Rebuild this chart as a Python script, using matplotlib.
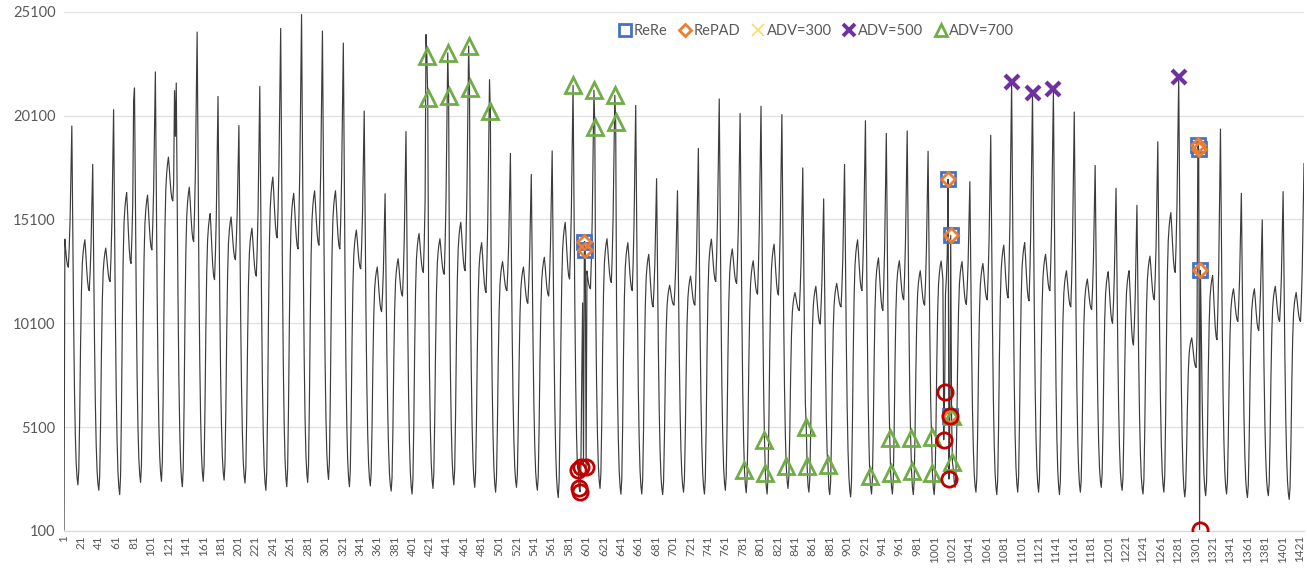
import numpy as np
import matplotlib
matplotlib.use("Agg")
import matplotlib.pyplot as plt
from matplotlib.lines import Line2D

plt.rcParams['font.family'] = ['Lato', 'DejaVu Sans']

# ---------------- data ----------------
N_POINTS = 1426          # hourly points
FIRST_TROUGH = 17        # index of the first night-time trough
HOURS_PER_DAY = 24

# one entry per day, day -1 (partial first day) .. day 58
day_trough = [2300, 2320, 2060, 1850, 2440, 2490, 2230, 2490, 2550, 2410,
              2060, 2230, 2440, 2580, 2230, 2270, 2020, 1880, 2150, 2320,
              2200, 1970, 2200, 2060, 1710, 2000, 2150, 1870, 1880, 1850,
              1970, 1880, 2060, 1940, 1880, 2150, 1970, 1850, 1740, 1880,
              1880, 1850, 1850, 2200, 1970, 1850, 1970, 1970, 1850, 1970,
              2200, 2060, 1880, 1970, 1740, 1800, 1880, 1710, 1800, 1620]
day_bump = [14600, 14120, 13720, 16390, 16270, 18100, 16650, 15380, 15220, 14680,
            17140, 16360, 16480, 16480, 14590, 12810, 13210, 14420, 14170, 14960,
            13980, 13070, 12810, 13280, 14960, 12900, 14170, 13980, 13420, 11930,
            12370, 14150, 13680, 13110, 13910, 11580, 11880, 12020, 14120, 13250,
            13110, 12630, 13100, 13070, 12980, 13860, 13980, 13420, 12630, 12230,
            12580, 12630, 13330, 15430, 9400, 12400, 11760, 11760, 11880, 11580]
day_dip = [12800, 11670, 12110, 12980, 13630, 15990, 14030, 12200, 13160, 12370,
           14210, 13680, 13860, 13680, 12720, 10660, 11410, 12550, 12460, 12630,
           11580, 11670, 11060, 11410, 12230, 11760, 12060, 11670, 10890, 10970,
           10970, 12110, 12020, 11500, 11460, 10710, 10060, 10890, 11670, 10710,
           11230, 10970, 11500, 11010, 11230, 11320, 11180, 11670, 10890, 10760,
           10100, 9050, 11230, 12550, 7970, 9310, 10190, 9750, 10190, 10190]
day_peak = [19600, 17750, 20380, 21430, 22200, 21670, 24120, 21020, 19620, 21500,
            24290, 24960, 24170, 23590, 20320, 16340, 19330, 22950, 23120, 23440,
            21830, 18280, 17270, 18400, 21550, 21320, 21080, 20590, 17060, 16480,
            18520, 20900, 20200, 20550, 20150, 17580, 16090, 17750, 19850, 19240,
            19360, 18380, 17030, 16920, 19150, 21720, 21200, 21370, 20270, 17700,
            16600, 15780, 18840, 21980, 18700, 19450, 16360, 15080, 16440, 17790]

# hourly shape of a day (fractions between the day's key levels)
rise_shape = [0.0, 0.06, 0.27, 0.56, 0.78, 0.90, 0.95, 0.98, 1.0]   # trough -> bump
bump_dip_shape = [0.25, 0.55, 0.80, 0.95, 1.0]                     # bump -> dip
dip_peak_shape = [0.14, 0.34, 0.66, 1.0]                           # dip -> peak
fall_shape = [0.74, 0.47, 0.27, 0.14, 0.06, 0.02]                  # peak -> next trough

# individual points (spikes, flagged points)
point_idx = [1, 81, 128, 129, 417, 419, 443, 467, 491,
             592, 593, 594, 595, 596, 597, 598, 599, 600, 601, 611, 635,
             783, 806, 807, 831, 854, 855, 879, 927, 950, 951, 974, 975, 998, 999,
             1012, 1013, 1017, 1018, 1019, 1020, 1021, 1022,
             1304, 1305, 1306, 1307]
point_val = [150, 20800, 21300, 19100, 24000, 20950, 21020, 21430, 20300,
             3030, 2180, 1990, 3190, 7500, 11080, 3300, 14030, 13630, 3190, 19540, 19800,
             3020, 4500, 2880, 3230, 5120, 3230, 3280, 2760, 4560, 2880, 4560, 3000, 4640, 2900,
             4490, 6790, 17030, 2600, 5620, 14330, 5660, 3410,
             18700, 18490, 170, 12650]

# detections (point indices)
rere_idx = [599, 600, 1017, 1019, 1020, 1304, 1305, 1307]
repad_idx = [599, 600, 1017, 1019, 1020, 1304, 1305, 1307]
adv300_idx = []
adv500_idx = [1090, 1114, 1138, 1282]
adv700_idx = [418, 419, 442, 443, 466, 467, 491, 586, 610, 611, 634, 635,
              783, 806, 807, 831, 854, 855, 879, 927, 950, 951, 974, 975,
              998, 999, 1021, 1022]
circle_idx = [592, 593, 594, 595, 601, 1012, 1013, 1018, 1019, 1306]

y_ticks = [100, 5100, 10100, 15100, 20100, 25100]
x_ticks = list(range(1, 1422, 20))

# ---------------- build the series ----------------
x = np.arange(1, N_POINTS + 1)
series = np.zeros(N_POINTS)
for n in x:
    rel = n - FIRST_TROUGH
    k = rel // HOURS_PER_DAY
    off = rel % HOURS_PER_DAY
    d = k + 1
    T, M, D, P = day_trough[d], day_bump[d], day_dip[d], day_peak[d]
    if off <= 8:
        v = T + rise_shape[off] * (M - T)
    elif off <= 13:
        v = M - bump_dip_shape[off - 9] * (M - D)
    elif off <= 17:
        v = D + dip_peak_shape[off - 14] * (P - D)
    else:
        Tn = day_trough[d + 1]
        v = Tn + fall_shape[off - 18] * (P - Tn)
    series[n - 1] = v
for i, v in zip(point_idx, point_val):
    series[i - 1] = v


def yv(idx):
    return [series[i - 1] for i in idx]


# ---------------- plot ----------------
W, H = 1307, 570
fig = plt.figure(figsize=(W / 100, H / 100), dpi=100)
ax = fig.add_axes([64 / W, 1 - 531 / H, (1304 - 64) / W, (531 - 11.7) / H])

ax.plot(x, series, color='#3c3c3c', lw=0.85, zorder=2)

ax.plot(rere_idx, yv(rere_idx), ls='none', marker='s', ms=10, mfc='none',
        mec='#4472C4', mew=2.0, zorder=3)
ax.plot(repad_idx, yv(repad_idx), ls='none', marker='D', ms=7.5, mfc='none',
        mec='#ED7D31', mew=2.0, zorder=4)
ax.plot(adv300_idx, yv(adv300_idx), ls='none', marker='x', ms=9, mec='#FFD966',
        mew=1.2, zorder=5)
ax.plot(adv500_idx, yv(adv500_idx), ls='none', marker='x', ms=10, mec='#7030A0',
        mew=3.0, zorder=5)
ax.plot(adv700_idx, yv(adv700_idx), ls='none', marker='^', ms=11, mfc='none',
        mec='#70AD47', mew=2.0, zorder=6)
ax.plot(circle_idx, yv(circle_idx), ls='none', marker='o', ms=11, mfc='none',
        mec='#C00000', mew=2.0, zorder=7)

ax.set_xlim(1, N_POINTS)
ax.set_ylim(100, 25100)
ax.set_yticks(y_ticks)
ax.set_yticklabels([str(v) for v in y_ticks])
ax.set_xticks(x_ticks)
ax.set_xticklabels([str(v) for v in x_ticks], rotation=90)
ax.tick_params(axis='y', length=0, labelsize=10.5, labelcolor='#595959', pad=6)
ax.tick_params(axis='x', length=0, labelsize=8.5, labelcolor='#595959', pad=3)
ax.grid(axis='y', color='#E0E0E0', lw=0.9, zorder=0)
for s in ['top', 'right', 'left']:
    ax.spines[s].set_visible(False)
ax.spines['bottom'].set_color('#D9D9D9')
ax.spines['bottom'].set_linewidth(0.9)

handles = [
    Line2D([], [], ls='none', marker='s', ms=8, mfc='none', mec='#4472C4', mew=2.0),
    Line2D([], [], ls='none', marker='D', ms=6, mfc='none', mec='#ED7D31', mew=2.0),
    Line2D([], [], ls='none', marker='x', ms=8, mec='#FFD966', mew=1.2),
    Line2D([], [], ls='none', marker='x', ms=8, mec='#7030A0', mew=2.8),
    Line2D([], [], ls='none', marker='^', ms=8, mfc='none', mec='#70AD47', mew=2.0),
]
labels = ['ReRe', 'RePAD', 'ADV=300', 'ADV=500', 'ADV=700']
fig.legend(handles, labels, loc='center', bbox_to_anchor=(816 / W, 1 - 31 / H),
           ncol=5, frameon=False, fontsize=10.5, labelcolor='#595959',
           handletextpad=0.1, columnspacing=0.7, handlelength=1.0)

fig.savefig('out.png', dpi=100)
